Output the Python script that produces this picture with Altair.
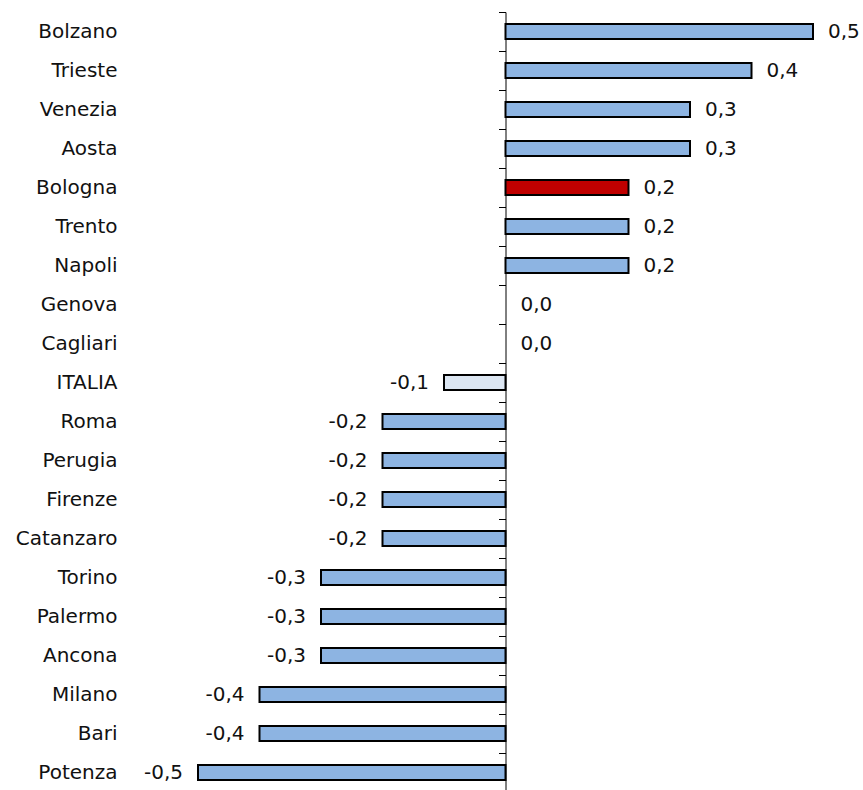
import altair as alt
import pandas as pd

# Cities in display order (top to bottom) and their values
cities = ["Bolzano", "Trieste", "Venezia", "Aosta", "Bologna", "Trento", "Napoli",
          "Genova", "Cagliari", "ITALIA", "Roma", "Perugia", "Firenze", "Catanzaro",
          "Torino", "Palermo", "Ancona", "Milano", "Bari", "Potenza"]
values = [0.5, 0.4, 0.3, 0.3, 0.2, 0.2, 0.2,
          0.0, 0.0, -0.1, -0.2, -0.2, -0.2, -0.2,
          -0.3, -0.3, -0.3, -0.4, -0.4, -0.5]
groups = ["città" if c not in ("Bologna", "ITALIA") else c for c in cities]

group_names = ["città", "Bologna", "ITALIA"]
group_colors = ["#8DB4E2", "#C00000", "#DCE6F2"]

df = pd.DataFrame({"city": cities, "value": values, "group": groups})
df["label"] = df["value"].map(lambda v: f"{v:.1f}".replace(".", ","))

FONT = "DejaVu Sans"
TEXT_COLOR = "#111111"

y_enc = alt.Y(
    "city:N",
    sort=cities,
    title=None,
    scale=alt.Scale(paddingInner=0, paddingOuter=0),
    axis=alt.Axis(
        orient="left",
        offset=-307.5,
        tickBand="extent",
        tickSize=7,
        tickColor="black",
        domainColor="black",
        labelPadding=381.5,
        labelFont=FONT,
        labelFontSize=20,
        labelColor=TEXT_COLOR,
        grid=False,
    ),
)
x_enc = alt.X("value:Q", title=None, axis=None,
              scale=alt.Scale(domain=[-0.5, 0.5], nice=False, zero=True))

base = alt.Chart(df)

# zero-valued cities get no bar, only their label
bars = base.transform_filter("datum.value != 0").mark_bar(
    height={"band": 0.38},
    stroke="black",
    strokeWidth=2,
).encode(
    x=x_enc,
    y=y_enc,
    color=alt.Color("group:N", legend=None,
                    scale=alt.Scale(domain=group_names, range=group_colors)),
)

pos_labels = base.transform_filter("datum.value >= 0").mark_text(
    align="left", baseline="middle", dx=15, font=FONT, fontSize=20, color=TEXT_COLOR
).encode(x="value:Q", y=alt.Y("city:N", sort=cities), text="label:N")

neg_labels = base.transform_filter("datum.value < 0").mark_text(
    align="right", baseline="middle", dx=-15, font=FONT, fontSize=20, color=TEXT_COLOR
).encode(x="value:Q", y=alt.Y("city:N", sort=cities), text="label:N")

chart = alt.layer(bars, pos_labels, neg_labels).properties(
    width=615,
    height=780,
    background="white",
    autosize=alt.AutoSizeParams(type="none"),
    padding={"left": 198, "right": 50, "top": 12, "bottom": 0},
).configure_view(stroke=None)

chart.save("out.html", embed_options={"renderer": "svg", "actions": False})
